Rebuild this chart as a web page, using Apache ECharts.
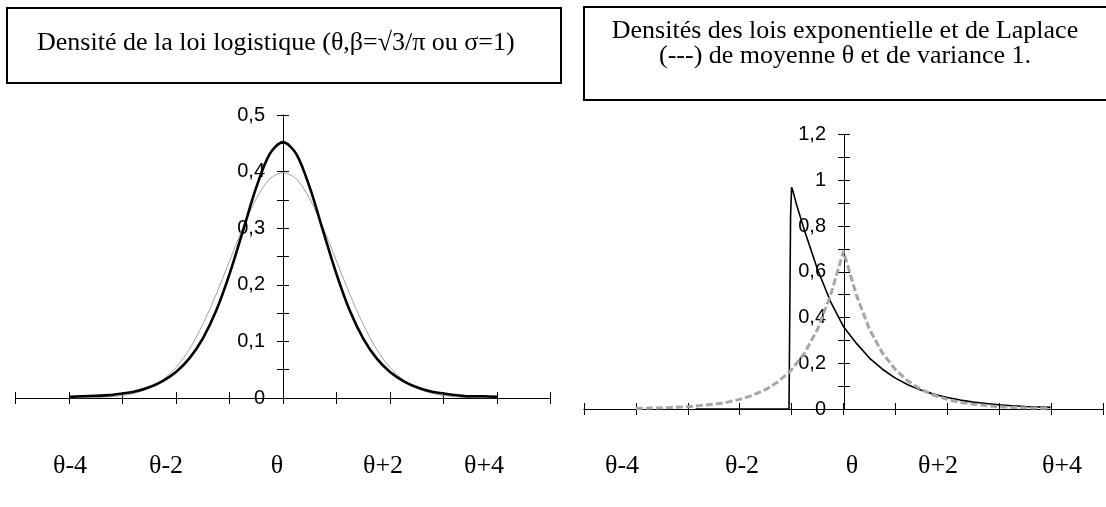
<!DOCTYPE html>
<html>
<head>
<meta charset="utf-8">
<script src="https://cdn.jsdelivr.net/npm/echarts@6/dist/echarts.min.js"></script>
<style>
html, body { margin: 0; padding: 0; background: #fff; }
#chart { width: 1106px; height: 507px; }
</style>
</head>
<body>
<div id="chart"></div>
<script>
// left panel : logistic (black) vs normal (grey), x from theta-4 to theta+4
var xLeft = [-4, -3.75, -3.5, -3.25, -3, -2.75, -2.5, -2.25, -2, -1.75, -1.5, -1.25, -1, -0.75, -0.5, -0.25,
    0, 0.25, 0.5, 0.75, 1, 1.25, 1.5, 1.75, 2, 2.25, 2.5, 2.75, 3, 3.25, 3.5, 3.75, 4];
var logistique = [0.002, 0.003, 0.004, 0.005, 0.008, 0.012, 0.019, 0.030, 0.046, 0.070, 0.105, 0.154, 0.219, 0.295, 0.372, 0.431,
    0.452, 0.431, 0.372, 0.295, 0.219, 0.154, 0.105, 0.070, 0.046, 0.030, 0.019, 0.012, 0.008, 0.005, 0.003, 0.003, 0.002];
var normale = [0.0001, 0.0004, 0.0009, 0.002, 0.0044, 0.009, 0.018, 0.032, 0.054, 0.086, 0.130, 0.183, 0.242, 0.301, 0.352, 0.387,
    0.398, 0.387, 0.352, 0.301, 0.242, 0.183, 0.130, 0.086, 0.054, 0.032, 0.018, 0.009, 0.0044, 0.002, 0.0009, 0.0004, 0.0001];

// right panel : exponential (black) and Laplace (grey dashed)
var xExpo = [-2.85, -1.05, -1.02, -1.0, -0.97, -0.9, -0.75, -0.5, -0.25, 0, 0.25, 0.5, 0.75, 1, 1.25, 1.5, 1.75,
    2, 2.25, 2.5, 2.75, 3, 3.25, 3.5, 3.75, 4];
var expo = [0, 0, 0.84, 0.97, 0.95, 0.89, 0.78, 0.61, 0.47, 0.36, 0.287, 0.223, 0.174, 0.135, 0.105, 0.082, 0.064,
    0.050, 0.039, 0.030, 0.024, 0.018, 0.014, 0.011, 0.009, 0.007];
var xLaplace = [-4, -3.75, -3.5, -3.25, -3, -2.75, -2.5, -2.25, -2, -1.75, -1.5, -1.25, -1, -0.75, -0.5, -0.25,
    0, 0.25, 0.5, 0.75, 1, 1.25, 1.5, 1.75, 2, 2.25, 2.5, 2.75, 3, 3.25, 3.5, 3.75, 4];
var laplace = [0.0025, 0.004, 0.005, 0.007, 0.010, 0.015, 0.021, 0.029, 0.042, 0.060, 0.085, 0.121, 0.172, 0.245, 0.349, 0.497,
    0.69, 0.497, 0.349, 0.245, 0.172, 0.121, 0.085, 0.060, 0.042, 0.029, 0.021, 0.015, 0.010, 0.007, 0.005, 0.004, 0.0025];

var labelsLeft = ['θ-4', 'θ-2', 'θ', 'θ+2', 'θ+4'];
var labelsLeftX = [70, 166, 277, 383, 484];
var labelsRight = ['θ-4', 'θ-2', 'θ', 'θ+2', 'θ+4'];
var labelsRightX = [622, 742, 852, 938, 1062];

function pairs(xs, ys) {
    return xs.map(function (x, i) { return [x, ys[i]]; });
}

function commaLabel(step) {
    return function (v) {
        var k = Math.round(v / step);
        if (k % 2 !== 0) return '';
        return String(Math.round(v * 100) / 100).replace('.', ',');
    };
}

var serif = '"Liberation Serif", "Times New Roman", serif';
var sans = '"Liberation Sans", Arial, sans-serif';

function xAxisPair(grid) {
    var base = {
        gridIndex: grid, type: 'value', min: -5, max: 5, interval: 1,
        axisLine: { onZero: true, lineStyle: { color: '#000', width: 1 } },
        axisTick: { show: true, inside: false, length: 6, lineStyle: { color: '#000' } },
        axisLabel: { show: false },
        splitLine: { show: false }
    };
    return [
        Object.assign({ position: 'bottom' }, base),
        Object.assign({ position: 'top' }, base)
    ];
}

// y axes drawn at x = 0 by shifting them into the grid (offset = px from grid edge to zero)
function yAxisPair(grid, max, step, offLeft, offRight) {
    var base = {
        gridIndex: grid, type: 'value', min: 0, max: max, interval: step,
        axisLine: { show: true, onZero: false, lineStyle: { color: '#000', width: 1 } },
        axisTick: { show: true, inside: false, length: 6, lineStyle: { color: '#000' } },
        splitLine: { show: false }
    };
    return [
        Object.assign({ position: 'left', offset: -offLeft, axisLabel: {
            show: true, margin: 18, color: '#000', fontSize: 20, fontFamily: sans,
            formatter: commaLabel(step)
        } }, base),
        Object.assign({ position: 'right', offset: -offRight, axisLabel: { show: false } }, base)
    ];
}

var dom = document.getElementById('chart');
var myChart = echarts.init(dom, null, { renderer: 'canvas' });

var graphics = [
    { type: 'rect', shape: { x: 7, y: 8, width: 554, height: 75 },
      style: { fill: '#fff', stroke: '#000', lineWidth: 2 } },
    { type: 'text', x: 37, y: 43,
      style: { text: 'Densité de la loi logistique (θ,β=√3/π ou σ=1)', font: '26px ' + serif,
               fill: '#000', verticalAlign: 'middle' } },
    { type: 'rect', shape: { x: 584, y: 7, width: 540, height: 93 },
      style: { fill: '#fff', stroke: '#000', lineWidth: 2 } },
    { type: 'text', x: 845, y: 31,
      style: { text: 'Densités des lois exponentielle et de Laplace', font: '26px ' + serif,
               fill: '#000', align: 'center', verticalAlign: 'middle' } },
    { type: 'text', x: 845, y: 56,
      style: { text: '(---) de moyenne θ et de variance 1.', font: '26px ' + serif,
               fill: '#000', align: 'center', verticalAlign: 'middle' } }
];
labelsLeft.forEach(function (t, i) {
    graphics.push({ type: 'text', x: labelsLeftX[i], y: 466,
        style: { text: t, font: '26px ' + serif, fill: '#000', align: 'center', verticalAlign: 'middle' } });
});
labelsRight.forEach(function (t, i) {
    graphics.push({ type: 'text', x: labelsRightX[i], y: 466,
        style: { text: t, font: '26px ' + serif, fill: '#000', align: 'center', verticalAlign: 'middle' } });
});

option = {
    backgroundColor: '#fff',
    animation: false,
    grid: [
        { left: 15.5, top: 115, width: 535, height: 283, outerBoundsMode: 'none', containLabel: false },
        { left: 584, top: 134.7, width: 519, height: 274.3, outerBoundsMode: 'none', containLabel: false }
    ],
    xAxis: xAxisPair(0).concat(xAxisPair(1)),
    yAxis: yAxisPair(0, 0.5, 0.05, 267.5, 267.5).concat(yAxisPair(1, 1.2, 0.1, 260, 259)),
    graphic: graphics,
    series: [
        {
            name: 'normale', type: 'line', xAxisIndex: 0, yAxisIndex: 0,
            data: pairs(xLeft, normale), smooth: 0.3, showSymbol: false,
            lineStyle: { color: '#a0a0a0', width: 1 }
        },
        {
            name: 'logistique', type: 'line', xAxisIndex: 0, yAxisIndex: 0,
            data: pairs(xLeft, logistique), smooth: 0.3, showSymbol: false,
            lineStyle: { color: '#000', width: 2.6 }
        },
        {
            name: 'exponentielle', type: 'line', xAxisIndex: 2, yAxisIndex: 2,
            data: pairs(xExpo, expo), showSymbol: false,
            lineStyle: { color: '#000', width: 1.6 }
        },
        {
            name: 'Laplace', type: 'line', xAxisIndex: 2, yAxisIndex: 2,
            data: pairs(xLaplace, laplace), showSymbol: false,
            lineStyle: { color: '#a6a6a6', width: 3, type: [7, 3] }
        }
    ]
};
if (option && typeof option === "object") {
    myChart.setOption(option, true);
}
</script>
</body>
</html>
